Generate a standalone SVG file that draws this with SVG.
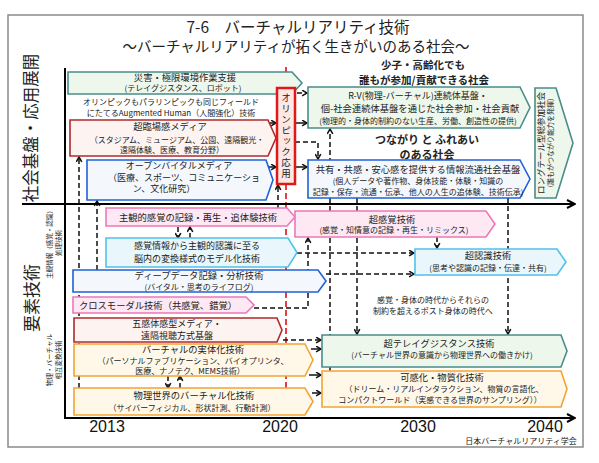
<svg xmlns="http://www.w3.org/2000/svg" width="599" height="463" viewBox="0 0 599 463">
<defs>
<style>
text{font-family:"Noto Sans CJK JP","Noto Sans",sans-serif;fill:#222;text-anchor:middle}
.h{font-size:9.3px}
.s{font-size:8px}
.b{font-weight:bold}
.yr{font-family:"Liberation Sans",Arial,sans-serif;font-size:16px;fill:#111}
.g{fill:#eef7ec;stroke:#4a8c8c;stroke-width:1.6}
.r{fill:#fdf4f2;stroke:#b02a2a;stroke-width:1.6}
.bl{fill:#f4f8fd;stroke:#2060d8;stroke-width:1.6}
.p{fill:#fde8f3;stroke:#ec78b8;stroke-width:1.6}
.c{fill:#e9f7fc;stroke:#52c0e8;stroke-width:1.6}
.o{fill:#fff8e8;stroke:#f2a432;stroke-width:1.6}
.d{fill:none;stroke:#111;stroke-width:1.5;stroke-dasharray:5 3}
.sl{fill:none;stroke:#111;stroke-width:1.5}
</style>
<marker id="ah" viewBox="0 0 10 10" refX="8.5" refY="5" markerWidth="7" markerHeight="7" orient="auto" markerUnits="userSpaceOnUse">
<path d="M1.5,1 L8.5,5 L1.5,9" fill="none" stroke="#111" stroke-width="2.2"/>
</marker>
<marker id="ax" viewBox="0 0 10 10" refX="9" refY="5" markerWidth="10" markerHeight="10" orient="auto" markerUnits="userSpaceOnUse">
<path d="M1,1 L9,5 L1,9" fill="none" stroke="#000" stroke-width="2"/>
</marker>
</defs>

<rect x="0" y="0" width="599" height="463" fill="#fff"/>
<rect x="8" y="15" width="575" height="432" fill="#fff" stroke="#8a8a8a" stroke-width="1.5"/>

<g id="title">
<text x="298" y="33" style="font-size:15.5px">7-6　バーチャルリアリティ技術</text>
<text x="296" y="52" style="font-size:14.5px">～バーチャルリアリティが拓く生きがいのある社会～</text>
</g>

<g id="side-labels">
<text transform="translate(37,128) rotate(-90)" style="font-size:16.5px">社会基盤・応用展開</text>
<text transform="translate(38,298) rotate(-90)" style="font-size:17px">要素技術</text>
<text transform="translate(52,243) rotate(-90)" style="font-size:6.5px">主観情報（感覚・認識）</text>
<text transform="translate(61,243) rotate(-90)" style="font-size:6.5px">処理技術</text>
<text transform="translate(52,360) rotate(-90)" style="font-size:6.5px">物理・バーチャル</text>
<text transform="translate(61,360) rotate(-90)" style="font-size:6.5px">相互変換技術</text>
</g>

<g id="connectors">
<line x1="286" y1="67" x2="286" y2="418" stroke="#e01010" stroke-width="1.6" stroke-dasharray="6 3"/>
<path class="d" d="M79,388 V157" marker-end="url(#ah)"/>
<path class="d" d="M97,270 V201" marker-end="url(#ah)"/>
<path class="d" d="M278,208 V185" marker-end="url(#ah)"/>
<path class="d" d="M295,142 H318 V159" marker-end="url(#ah)"/>
<path class="d" d="M330,371 V129" marker-end="url(#ah)"/>
<path class="d" d="M357,198 V334" marker-end="url(#ah)"/>
<path class="d" d="M508,198 V334" marker-end="url(#ah)"/>
<path class="d" d="M297,253 H414" marker-end="url(#ah)"/>
<path class="d" d="M326,274 H414" marker-end="url(#ah)"/>
<path class="d" d="M437,237 V248" marker-end="url(#ah)"/>
<path class="d" d="M254,308 H308 V238" marker-end="url(#ah)"/>
<path class="d" d="M283,340 H321" marker-end="url(#ah)"/>
<path class="d" d="M178,227 V238" marker-end="url(#ah)"/>
<path class="d" d="M190,238 V227" marker-end="url(#ah)"/>
<path class="d" d="M168,376 V388" marker-end="url(#ah)"/>
<path class="d" d="M180,388 V376" marker-end="url(#ah)"/>
<path class="sl" d="M268,123 H276" marker-end="url(#ah)"/>
<path class="sl" d="M269,167 H276" marker-end="url(#ah)"/>
<path class="d" d="M297,93 H307" marker-end="url(#ah)"/>
<path class="sl" d="M296,123 H307" marker-end="url(#ah)"/>
<path class="sl" d="M296,167 H307" marker-end="url(#ah)"/>
<path class="sl" d="M311,349 H321" marker-end="url(#ah)"/>
<path class="sl" d="M309,375 H321" marker-end="url(#ah)"/>
<path class="sl" d="M312,393 H321" marker-end="url(#ah)"/>
<path d="M65,68 V418 H575" fill="none" stroke="#000" stroke-width="2" marker-end="url(#ax)"/>
<path d="M22,204 H575" fill="none" stroke="#000" stroke-width="2" marker-end="url(#ax)"/>
</g>

<g id="n-saigai">
<path class="g" d="M68,72 H292 L302,83 L292,94 H68 Z"/>
<text class="h" x="185" y="80.5">災害・極限環境作業支援</text>
<text class="s" x="183" y="91">(テレイグジスタンス、ロボット)</text>
</g>

<g id="n-augmented">
<text class="s" x="171" y="105">オリンピックもパラリンピックも同じフィールド</text>
<text class="s" x="171" y="115.5">にたてるAugmented Human（人間強化）技術</text>
</g>

<g id="n-rinjo">
<path class="r" d="M70,120 H268 L276,138 L268,156 H70 Z"/>
<text class="h" x="170" y="130">超臨場感メディア</text>
<text class="s" x="177" y="143">（スタジアム、ミュージアム、公園、遠隔観光・</text>
<text class="s" x="172" y="153">遠隔体験、医療、教育分野）</text>
</g>

<g id="n-vital">
<path class="bl" d="M87,160 H266 L273,180 L266,200 H87 Z"/>
<text x="179" y="169" style="font-size:9px">オープンバイタルメディア</text>
<text x="184" y="180.5" style="font-size:9px">（医療、スポーツ、コミュニケーショ</text>
<text x="164" y="192" style="font-size:9px">ン、文化研究）</text>
</g>

<g id="n-olympic">
<rect x="277" y="88" width="18" height="96" fill="#fde8e4" stroke="#e01818" stroke-width="2.5"/>
<text x="286" y="136" style="font-size:9.5px;writing-mode:vertical-rl;letter-spacing:1.3px">オリンピック応用</text>
</g>

<g id="n-shoushi">
<text class="b" x="423" y="69" style="font-size:10.5px">少子・高齢化でも</text>
<text class="b" x="424" y="84" style="font-size:10.5px">誰もが参加/貢献できる社会</text>
</g>

<g id="n-rv">
<path class="g" d="M308,87 H520 L530,107.5 L520,128 H308 Z"/>
<text x="418" y="98.5" style="font-size:9px">R-V(物理-バーチャル)連続体基盤・</text>
<text class="h" x="420" y="112">個-社会連続体基盤を通じた社会参加・社会貢献</text>
<text class="s" x="418" y="123.5">(物理的・身体的制約のない生産、労働、創造性の提供)</text>
</g>

<g id="n-tsunagari">
<text class="b" x="427" y="144" style="font-size:11px">つながり と ふれあい</text>
<text class="b" x="427" y="158.5" style="font-size:11px">のある社会</text>
</g>

<g id="n-kyoyu">
<path class="bl" d="M308,160 H520 L530,179 L520,198 H308 Z"/>
<text class="h" x="418" y="172.5">共有・共感・安心感を提供する情報流通社会基盤</text>
<text class="s" x="418" y="184">(個人データや著作物、身体技能・体験・知識の</text>
<text class="s" x="418" y="195">記録・保存・流通・伝承、他人の人生の追体験、技術伝承)</text>
</g>

<g id="n-longtail">
<path class="g" d="M535,88 H556 L573,143 L556,198 H535 Z"/>
<text transform="translate(544,143) rotate(-90)" style="font-size:8.5px">ロングテール型総参加社会</text>
<text transform="translate(553,143) rotate(-90)" style="font-size:7px">(誰もがつながり能力を発揮)</text>
</g>

<g id="n-shukan">
<path class="p" d="M106,208 H287 L295,217 L287,226 H106 Z"/>
<text class="h" x="198" y="220.5">主観的感覚の記録・再生・追体験技術</text>
</g>

<g id="n-chokankaku">
<path class="p" d="M295,211 H486 L495,224 L486,237 H295 Z"/>
<text class="h" x="392" y="222.5">超感覚技術</text>
<text class="s" x="394" y="233">(感覚・知情意の記録・再生・リミックス)</text>
</g>

<g id="n-kankaku">
<path class="c" d="M106,238 H288 L297,252.5 L288,267 H106 Z"/>
<text x="197" y="249" style="font-size:9px">感覚情報から主観的認識に至る</text>
<text x="197" y="261.5" style="font-size:9px">脳内の変換様式のモデル化技術</text>
</g>

<g id="n-deep">
<path class="bl" d="M73,270 H318 L326,281 L318,292 H73 Z"/>
<text class="h" x="199" y="279">ディープデータ記録・分析技術</text>
<text class="s" x="199" y="289.5">(バイタル・思考のライフログ)</text>
</g>

<g id="n-chouninshiki">
<path class="c" d="M415,249 H557 L566,262 L557,275 H415 Z"/>
<text class="h" x="488" y="259">超認識技術</text>
<text class="s" x="488" y="270.5">(思考や認識の記録・伝達・共有)</text>
</g>

<g id="n-cross">
<path class="p" d="M73,297 H246 L254,305 L246,313 H73 Z"/>
<text class="h" x="158" y="308.5">クロスモーダル技術（共感覚、錯覚）</text>
</g>

<g id="n-post">
<text class="s" x="433" y="303">感覚・身体の時代からそれらの</text>
<text class="s" x="433" y="314">制約を超えるポスト身体の時代へ</text>
</g>

<g id="n-gokan">
<path class="r" d="M74,318 H277 L282,330 L277,342 H74 Z"/>
<text x="177" y="327" style="font-size:9px">五感体感型メディア・</text>
<text x="177" y="338.5" style="font-size:9px">遠隔視聴方式基盤</text>
</g>

<g id="n-jittai">
<path class="o" d="M74,344 H305 L313,360 L305,376 H74 Z"/>
<text class="h" x="193" y="353">バーチャルの実体化技術</text>
<text class="s" x="193" y="364">（パーソナルファブリケーション、バイオプリンタ、</text>
<text class="s" x="190" y="373.5">医療、ナノテク、MEMS技術）</text>
</g>

<g id="n-butsuri">
<path class="o" d="M74,388 H305 L313,401.5 L305,415 H74 Z"/>
<text class="h" x="194" y="399">物理世界のバーチャル化技術</text>
<text class="s" x="192" y="410.5">（サイバーフィジカル、形状計測、行動計測）</text>
</g>

<g id="n-teleg">
<path class="g" d="M322,335 H561 L567,351 L561,367 H322 Z"/>
<text class="h" x="439" y="346.5">超テレイグジスタンス技術</text>
<text class="s" x="442" y="358">(バーチャル世界の意識から物理世界への働きかけ)</text>
</g>

<g id="n-kakanka">
<path class="o" d="M322,371 H561 L567,389 L561,407 H322 Z"/>
<text class="h" x="442" y="380.5">可感化・物質化技術</text>
<text class="s" x="444" y="392">（ドリーム・リアルインタラクション、物質の言語化、</text>
<text class="s" x="440" y="402.5">コンパクトワールド（実感できる世界のサンプリング））</text>
</g>

<g id="years">
<text class="yr" x="107" y="432">2013</text>
<text class="yr" x="280" y="432">2020</text>
<text class="yr" x="418" y="432">2030</text>
<text class="yr" x="545" y="432">2040</text>
<text x="521" y="444" style="font-size:8px">日本バーチャルリアリティ学会</text>
</g>
</svg>
